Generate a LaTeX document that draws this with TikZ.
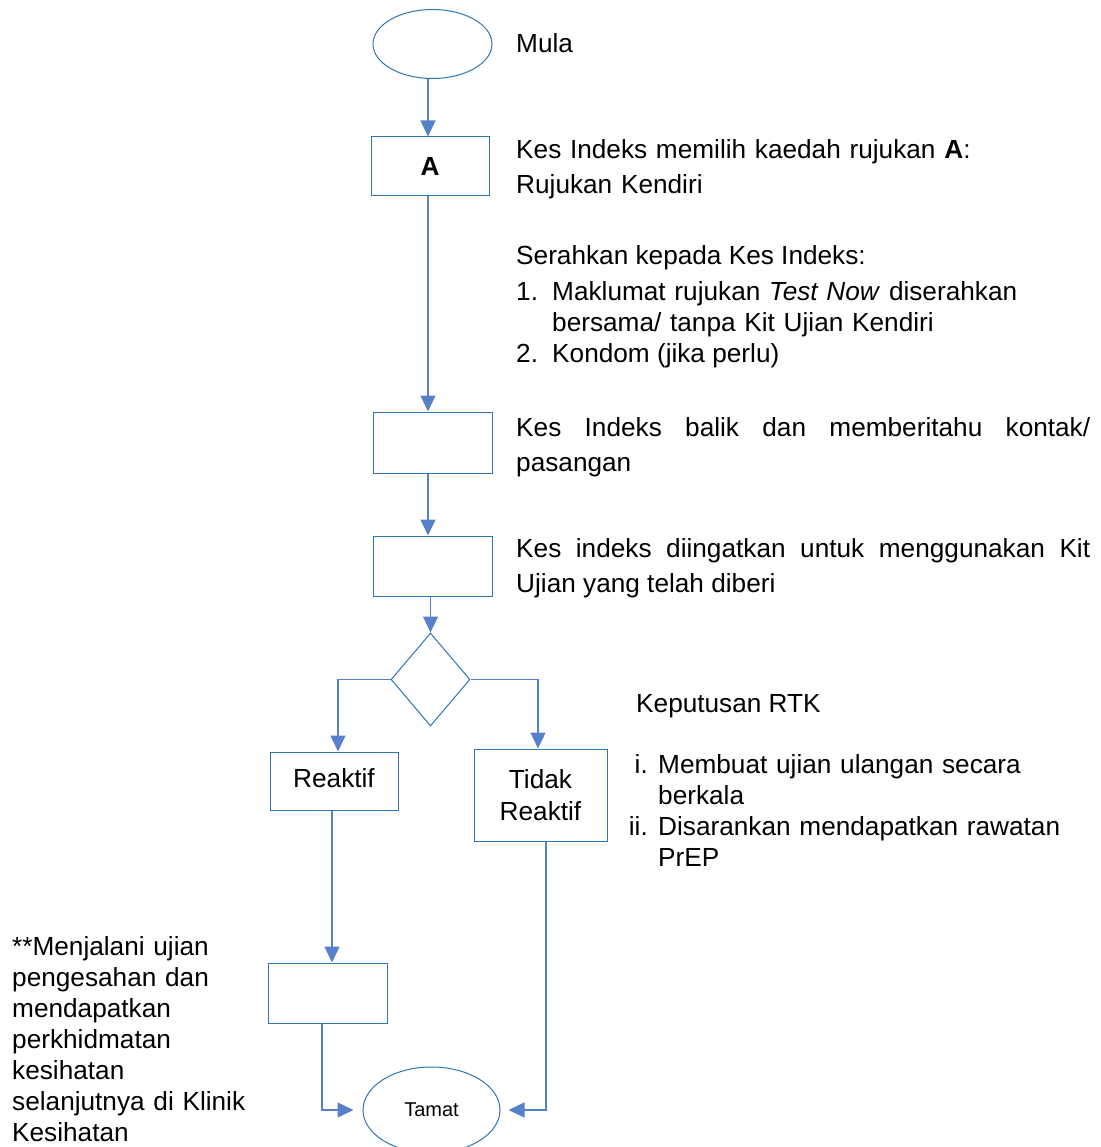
\documentclass[tikz,border=0pt]{standalone}
\usepackage{fontspec}
\setmainfont{Liberation Sans}
\usetikzlibrary{shapes.geometric,arrows.meta,calc}
\definecolor{biru}{HTML}{4472C4}
\definecolor{birug}{HTML}{2E75B6}
\hyphenpenalty=10000
\exhyphenpenalty=10000

\tikzset{
  kotak/.style={draw=birug,line width=1pt,minimum width=119pt,minimum height=60pt,inner sep=0pt,
        font=\fontsize{26.2}{32}\selectfont,align=center},
  bujur/.style={ellipse,draw=birug,line width=1pt,inner sep=0pt},
  anak/.style={draw=biru!90,line width=1.3pt,-{Triangle[length=16pt,width=15pt]}},
  teks/.style={anchor=base west,inner sep=0pt,font=\fontsize{26.2}{35}\selectfont,align=left}
}

\begin{document}
\begin{tikzpicture}[x=1pt,y=-1pt]
  \useasboundingbox (0,0) rectangle (1100,1147);

  % carta alir
  \node[bujur,minimum width=119pt,minimum height=69pt] (mula) at (432.5,44) {};
  \node[kotak,minimum width=118pt,minimum height=59pt,font=\fontsize{26.2}{32}\selectfont\bfseries] (kaedahA) at (430,166.5) {A};
  \node[kotak,minimum height=61pt] (balik) at (432.5,442.5) {};
  \node[kotak] (ingat) at (432.5,566) {};
  \node[diamond,draw=birug,line width=1pt,minimum width=79pt,minimum height=93pt,inner sep=0pt] (keputusan) at (430.5,679.5) {};
  \node[kotak,minimum width=128pt,minimum height=58pt] (reaktif) at (334,781) {Reaktif\vphantom{g}};
  \node[kotak,minimum width=133pt,minimum height=92pt] (tidak) at (540.5,795) {Tidak\\Reaktif};
  \node[kotak] (sahkan) at (327.5,993) {};
  \node[bujur,minimum width=137pt,minimum height=86pt,font=\fontsize{20}{24}\selectfont] (tamat) at (431.5,1110) {Tamat};

  \draw[anak] (mula.south -| 428,0) -- (428,0 |- kaedahA.north);
  \draw[anak] (kaedahA.south -| 428,0) -- (428,0 |- balik.north);
  \draw[anak] (balik.south -| 428,0) -- (428,0 |- ingat.north);
  \draw[anak] (ingat.south -| keputusan.north) -- (keputusan.north);
  \draw[anak] (keputusan.west) -- (338,0 |- keputusan.west) -- (338,0 |- reaktif.north);
  \draw[anak] (keputusan.east) -- (538,0 |- keputusan.east) -- (538,0 |- tidak.north);
  \draw[anak] (reaktif.south -| 332,0) -- (332,0 |- sahkan.north);
  \draw[anak,shorten >=9pt] (sahkan.south -| 322,0) |- (tamat.west);
  \draw[anak,shorten >=8pt] (tidak.south -| 546,0) |- (tamat.east);

  % keterangan
  \node[teks] (tMula) at (516,53) {Mula};
  \node[teks,text width=560pt] (tKaedah) at (516,159) {Kes Indeks memilih kaedah rujukan \textbf{A}:\\Rujukan Kendiri};
  \node[teks] (tSerah) at (516,265) {Serahkan kepada Kes Indeks:};
  \node[teks] (nSatu) at (516,301) {1.};
  \node[teks,text width=530pt,font=\fontsize{26.2}{30}\selectfont] (tSatu) at (552,301) {Maklumat rujukan \textit{Test Now} diserahkan\\bersama/ tanpa Kit Ujian Kendiri};
  \node[teks] (nDua) at (516,362) {2.};
  \node[teks] (tDua) at (552,362) {Kondom (jika perlu)};
  \node[teks,text width=574pt,align=justify] (tBalik) at (516,436)
    {Kes Indeks balik dan memberitahu kontak/ pasangan};
  \node[teks,text width=574pt,align=justify] (tIngat) at (516,557)
    {Kes indeks diingatkan untuk menggunakan Kit Ujian yang telah diberi};
  \node[teks] (tRTK) at (636,712) {Keputusan RTK};
  \node[teks,anchor=base east] (nI) at (648,773) {i.};
  \node[teks,text width=430pt,font=\fontsize{26.2}{31}\selectfont] (tI) at (658,773) {Membuat ujian ulangan secara\\berkala};
  \node[teks,anchor=base east] (nII) at (648,835) {ii.};
  \node[teks,text width=430pt,font=\fontsize{26.2}{31}\selectfont] (tII) at (658,835) {Disarankan mendapatkan rawatan\\PrEP};
  \node[teks,text width=250pt,font=\fontsize{26.2}{31}\selectfont] (tSah) at (12,955)
    {**Menjalani ujian\\pengesahan dan\\mendapatkan\\perkhidmatan\\kesihatan\\selanjutnya di Klinik\\Kesihatan};
\end{tikzpicture}
\end{document}
